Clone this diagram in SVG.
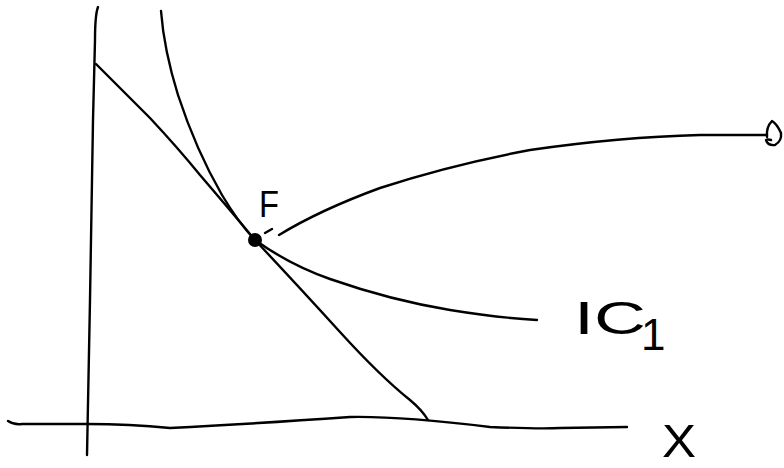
<svg xmlns="http://www.w3.org/2000/svg" width="784" height="468" viewBox="0 0 784 468">
<style>
.ln{fill:none;stroke:#000;stroke-width:2.4;stroke-linecap:round;stroke-linejoin:round}
.lb{font-family:"Liberation Sans",Arial,sans-serif;fill:#000}
</style>
<rect width="784" height="468" fill="#fff"/>
<g id="connectors">
<path id="x-axis" class="ln" d="M8,421 Q14,425 22,424 L87,424 Q130,424 170,428 Q250,424 350,417 Q400,416 490,427 Q540,429 560,428 L627,427"/>
<path id="y-axis" class="ln" d="M98,7 Q95,15 95,40 L93,120 Q91,220 90,300 L87,455"/>
<path id="budget-line" class="ln" d="M96,64 Q130,98 150,118 Q178,148 200,175 Q230,210 255,240 Q300,288 340,332 Q380,376 410,400 Q422,410 428,420"/>
<path id="ic1" class="ln" d="M161,11 Q164,50 178,95 Q196,150 222,195 Q238,222 255,240 Q290,265 330,279 Q390,300 450,310 Q500,318 537,320"/>
<path id="path-curve" class="ln" d="M279,235 Q320,210 380,188 Q450,165 530,150 Q620,137 700,135 L767,135"/>
<path id="end-loop" class="ln" d="M767,137 Q766,127 772,121 Q777,124 781,133 Q782,141 775,145 Q768,146 766,140 Q768,139 771,140"/>
<path id="tick" class="ln" d="M265,233 L272,229"/>
</g>
<g id="node-F">
<circle cx="255" cy="240" r="7" fill="#000"/>
<text class="lb" x="259" y="217" font-size="36" textLength="20" lengthAdjust="spacingAndGlyphs">F</text>
</g>
<g id="label-IC1">
<text class="lb" x="574" y="334" font-size="46" textLength="72" lengthAdjust="spacingAndGlyphs">IC</text>
<text class="lb" x="641" y="350" font-size="44">1</text>
</g>
<g id="label-X">
<text class="lb" x="662" y="457" font-size="46" textLength="34" lengthAdjust="spacingAndGlyphs">X</text>
</g>
</svg>
